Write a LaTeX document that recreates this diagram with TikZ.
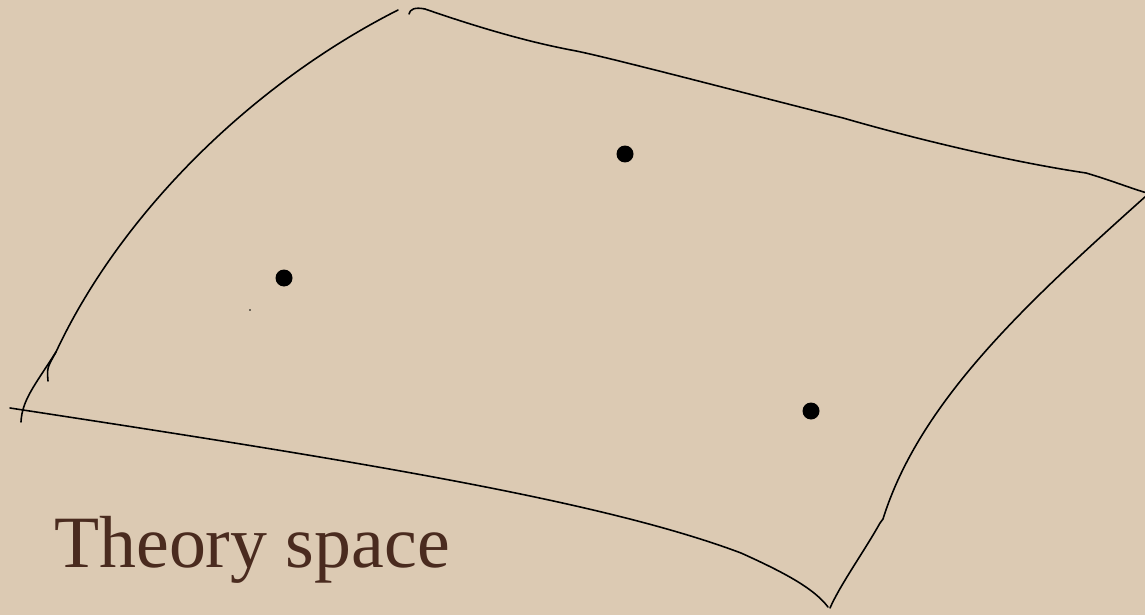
\documentclass[tikz,border=0pt]{standalone}
\usepackage{fontspec}
\setmainfont{Liberation Serif}
\usepackage{tikz}
\usetikzlibrary{positioning}
\definecolor{paper}{HTML}{DCCAB3}
\definecolor{inkbrown}{HTML}{4A2B1F}

\begin{document}
\begin{tikzpicture}[x=0.02cm,y=-0.02cm,rim/.style={line width=0.9pt,line cap=round,line join=round},spot/.style={circle,fill=black,inner sep=0pt,minimum size=0.34cm},titletext/.style={anchor=base west,inner sep=0pt,text=inkbrown,font=\fontsize{42}{50}\selectfont}]
\path[use as bounding box,fill=paper] (0,0) rectangle (1145,615);
\coordinate (nw) at (398,10);
\coordinate (ne) at (1147,193);
\coordinate (sw) at (21,422);
\coordinate (se) at (830,608);
\coordinate (tn) at (409,14);
\coordinate (bw) at (10,408);
\coordinate (kink) at (883,519);
\coordinate (hook) at (56,352);
\draw[rim] (nw) .. controls (250,85) and (120,215) .. (hook) .. controls (35,385) and (22,400) .. (sw);
\draw[rim] (48,381) .. controls (47,368) .. (hook);
\draw[rim] (tn) .. controls (410,9) and (415,7) .. (425,9) .. controls (500,35) and (545,45) .. (571,50) .. controls (600,55) and (740,92) .. (843,118) .. controls (930,143) and (1019,163) .. (1086,173) .. controls (1110,180) and (1130,188) .. (ne);
\draw[rim] (1146,196) .. controls (1030,300) and (920,400) .. (kink) -- (880,523) .. controls (865,550) and (840,585) .. (se);
\draw[rim] (bw) .. controls (350,460) and (600,500) .. (741,553) .. controls (790,575) and (815,590) .. (828,607);
\node[spot] (p1) at (625,154) {};
\node[spot] (p2) at (284,278) {};
\node[spot] (p3) at (811,411) {};
\node[spot,minimum size=0.035cm] (speck) at (250,310) {};
\node[titletext] (name) at (54,567) {Theory space};
\end{tikzpicture}
\end{document}
